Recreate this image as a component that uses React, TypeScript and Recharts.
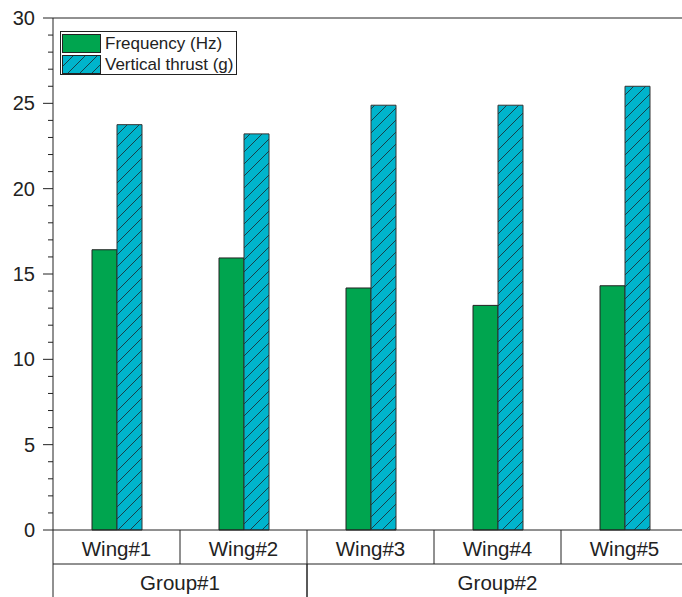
import React from 'react';
import { BarChart, Bar, XAxis, YAxis, ReferenceLine } from 'recharts';

// values
const wings = ['Wing#1', 'Wing#2', 'Wing#3', 'Wing#4', 'Wing#5'];
const groups = ['Group#1', 'Group#1', 'Group#2', 'Group#2', 'Group#2'];
const frequency = [16.42, 15.94, 14.18, 13.16, 14.31];
const thrust = [23.75, 23.21, 24.89, 24.89, 26.0];
const yTicks = Array.from({ length: 31 }, (_, i) => i);

const seriesNames = ['Frequency (Hz)', 'Vertical thrust (g)'];

const data = wings.map((w, i) => ({
  wing: w,
  group: groups[i],
  freq: frequency[i],
  thrust: thrust[i],
}));

const FONT = '"Liberation Sans", Arial, Helvetica, sans-serif';
const INK = '#222';
const GREEN = '#00a54f';
const BLUE = '#00b4cc';
const HATCH = '#17404a';

const HatchDef = ({ id }: { id: string }) => (
  <defs>
    <pattern id={id} patternUnits="userSpaceOnUse" width={12} height={12}>
      <rect width={12} height={12} fill={BLUE} />
      <path d="M-3,3 L3,-3 M0,12 L12,0 M9,15 L15,9" stroke={HATCH} strokeWidth={1} />
    </pattern>
  </defs>
);

const LeftTick = (props: any) => {
  const { x, y, payload } = props;
  const major = payload.value % 5 === 0;
  return (
    <g>
      <line x1={x - (major ? 10 : 5)} x2={x} y1={y} y2={y} stroke={INK} />
      {major && (
        <text x={x - 18} y={y} textAnchor="end" dominantBaseline="central" fontSize={20} fill={INK} fontFamily={FONT}>
          {payload.value}
        </text>
      )}
    </g>
  );
};

const RightTick = (props: any) => {
  const { x, y, payload } = props;
  const major = payload.value % 5 === 0;
  return <line x1={x} x2={x - (major ? 10 : 5)} y1={y} y2={y} stroke={INK} />;
};

const WingTick = (props: any) => {
  const { x, y, payload, index } = props;
  const half = payload.offset || 63.5;
  return (
    <g>
      {index === 0 && <line x1={x - half} x2={x - half} y1={y} y2={y + 34} stroke={INK} />}
      <line x1={x + half} x2={x + half} y1={y} y2={y + 34} stroke={INK} />
      <text x={x} y={y + 18} textAnchor="middle" dominantBaseline="central" fontSize={20.5} fill={INK} fontFamily={FONT}>
        {payload.value}
      </text>
    </g>
  );
};

const GroupTick = (props: any) => {
  const { x, y, payload, index } = props;
  const half = payload.offset || 63.5;
  let s = index;
  while (s > 0 && groups[s - 1] === groups[index]) s--;
  let e = index;
  while (e < groups.length - 1 && groups[e + 1] === groups[index]) e++;
  const mid = (s + e) / 2;
  const showLabel = index === Math.floor(mid);
  const lx = x + (mid - index) * 2 * half;
  return (
    <g>
      {index === s && <line x1={x - half} x2={x - half} y1={y} y2={y + 80} stroke={INK} />}
      {index === e && <line x1={x + half} x2={x + half} y1={y} y2={y + 80} stroke={INK} />}
      {showLabel && (
        <text x={lx} y={y + 18} textAnchor="middle" dominantBaseline="central" fontSize={20.5} fill={INK} fontFamily={FONT}>
          {groups[index]}
        </text>
      )}
    </g>
  );
};

const LegendBox = () => (
  <div
    style={{
      position: 'absolute',
      left: 60,
      top: 31,
      width: 175,
      height: 42,
      border: `1px solid ${INK}`,
      background: '#fff',
      fontFamily: FONT,
      fontSize: 17,
      color: INK,
    }}
  >
    {seriesNames.map((name, i) => (
      <div key={name} style={{ position: 'absolute', left: 1, top: 2 + i * 21, height: 19, display: 'flex', alignItems: 'center' }}>
        <svg width={39} height={19} style={{ display: 'block' }}>
          <HatchDef id={`legendHatch${i}`} />
          <rect x={0.5} y={0.5} width={38} height={18} fill={i === 0 ? GREEN : `url(#legendHatch${i})`} stroke={INK} />
        </svg>
        <span style={{ marginLeft: 4, whiteSpace: 'nowrap', lineHeight: '19px' }}>{name}</span>
      </div>
    ))}
  </div>
);

export default function App() {
  return (
    <div style={{ position: 'absolute', left: 0, top: 0, width: 682, height: 597, overflow: 'hidden', background: '#fff' }}>
      <BarChart
        width={700}
        height={640}
        data={data}
        margin={{ top: 18, right: 2, left: 0, bottom: 0 }}
        barGap={0}
        barSize={25}
      >
        <HatchDef id="barHatch" />
        <XAxis
          dataKey="wing"
          interval={0}
          height={34}
          tickLine={false}
          tickSize={0}
          tickMargin={0}
          axisLine={{ stroke: INK }}
          tick={<WingTick />}
        />
        <XAxis
          xAxisId="g"
          dataKey="group"
          interval={0}
          height={76}
          tickLine={false}
          tickSize={0}
          tickMargin={0}
          axisLine={{ stroke: INK }}
          tick={<GroupTick />}
        />
        <YAxis
          domain={[0, 30]}
          ticks={yTicks}
          interval={0}
          width={53}
          tickLine={false}
          tickSize={0}
          tickMargin={0}
          axisLine={{ stroke: INK }}
          tick={<LeftTick />}
        />
        <YAxis
          yAxisId="r"
          orientation="right"
          domain={[0, 30]}
          ticks={yTicks}
          interval={0}
          width={10}
          tickLine={false}
          tickSize={0}
          tickMargin={0}
          axisLine={{ stroke: INK }}
          tick={<RightTick />}
        />
        <ReferenceLine y={30} stroke={INK} />
        <Bar dataKey="freq" name={seriesNames[0]} fill={GREEN} stroke={INK} strokeWidth={1} isAnimationActive={false} />
        <Bar dataKey="thrust" name={seriesNames[1]} fill="url(#barHatch)" stroke="#333" strokeWidth={1} isAnimationActive={false} />
      </BarChart>
      <LegendBox />
    </div>
  );
}
